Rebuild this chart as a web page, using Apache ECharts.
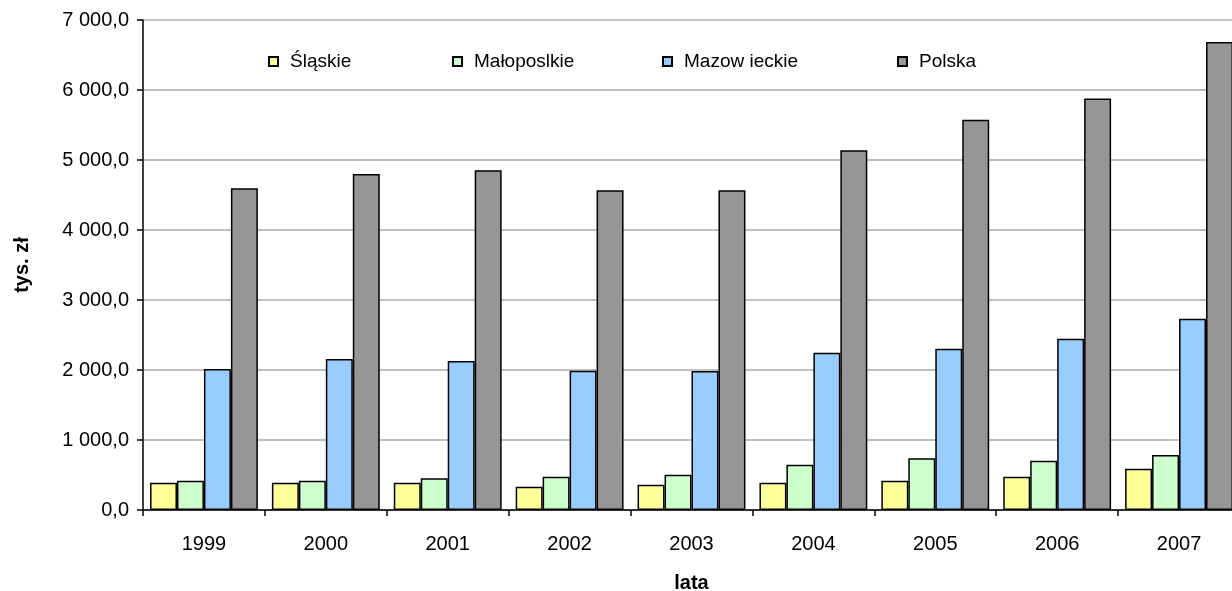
<!DOCTYPE html>
<html>
<head>
<meta charset="utf-8">
<script src="https://cdn.jsdelivr.net/npm/echarts@6/dist/echarts.min.js"></script>
<style>
html,body{margin:0;padding:0;background:#fff;}
#chart{width:1232px;height:591px;}
</style>
</head>
<body>
<div id="chart"></div>
<script>
const categories = ['1999','2000','2001','2002','2003','2004','2005','2006','2007'];
const seriesNames = ['Śląskie','Małoposlkie','Mazow ieckie','Polska'];
const slaskie = [390, 390, 390, 333, 362, 390, 419, 476, 590];
const malopolskie = [419, 419, 453, 476, 505, 648, 738, 705, 786];
const mazowieckie = [2014, 2157, 2129, 1990, 1986, 2247, 2304, 2446, 2732];
const polska = [4595, 4800, 4853, 4567, 4567, 5138, 5575, 5880, 6685];
const colors = ['#FFFF99','#CCFFCC','#99CCFF','#969696'];
const yTitle = 'tys. zł';
const xTitle = 'lata';

function fmt(v){
  const s = Math.round(v).toString().replace(/\B(?=(\d{3})+(?!\d))/g, ' ');
  return s + ',0';
}

const FONT = 'Liberation Sans, Arial, sans-serif';
const dataSets = [slaskie, malopolskie, mazowieckie, polska];
const legendLefts = [268, 452, 662, 897];
const chart = echarts.init(document.getElementById('chart'), null, {renderer:'canvas'});
chart.setOption({
  animation:false,
  textStyle:{fontFamily:FONT},
  legend: seriesNames.map((n,i)=>({
    top:52, left:legendLefts[i], padding:0,
    itemWidth:9, itemHeight:9,
    icon:'rect',
    textStyle:{fontSize:19, color:'#000', fontFamily:FONT, padding:[0,0,0,7]},
    data:[n]
  })),
  grid:{left:143, right:-8, top:20, bottom:81, containLabel:false, outerBoundsMode:'none'},
  xAxis:{
    type:'category', data:categories,
    name:xTitle, nameLocation:'middle', nameGap:63,
    nameTextStyle:{fontSize:20, fontWeight:'bold', color:'#000', fontFamily:FONT},
    axisLine:{lineStyle:{color:'#000', width:1.5}},
    axisTick:{show:true, alignWithLabel:false, length:6, lineStyle:{color:'#000', width:1.5}},
    axisLabel:{fontSize:20, color:'#000', margin:24, fontFamily:FONT}
  },
  yAxis:{
    type:'value', min:0, max:7000, interval:1000,
    name:yTitle, nameLocation:'middle', nameGap:111, nameRotate:90,
    nameTextStyle:{fontSize:20, fontWeight:'bold', color:'#000', fontFamily:FONT},
    axisLine:{show:true, lineStyle:{color:'#000', width:1.5}},
    axisTick:{show:true, length:6, lineStyle:{color:'#000', width:1.5}},
    axisLabel:{fontSize:20, color:'#000', margin:14, formatter:fmt, fontFamily:FONT},
    splitLine:{lineStyle:{color:'#C0C0C0', width:2}}
  },
  series: seriesNames.map((n,i)=>({
    name:n, type:'bar', data:dataSets[i],
    barGap:'0%', barCategoryGap:'11.5%',
    itemStyle:{color:colors[i], borderColor:'#000', borderWidth:1.5}
  }))
});
</script>
</body>
</html>
